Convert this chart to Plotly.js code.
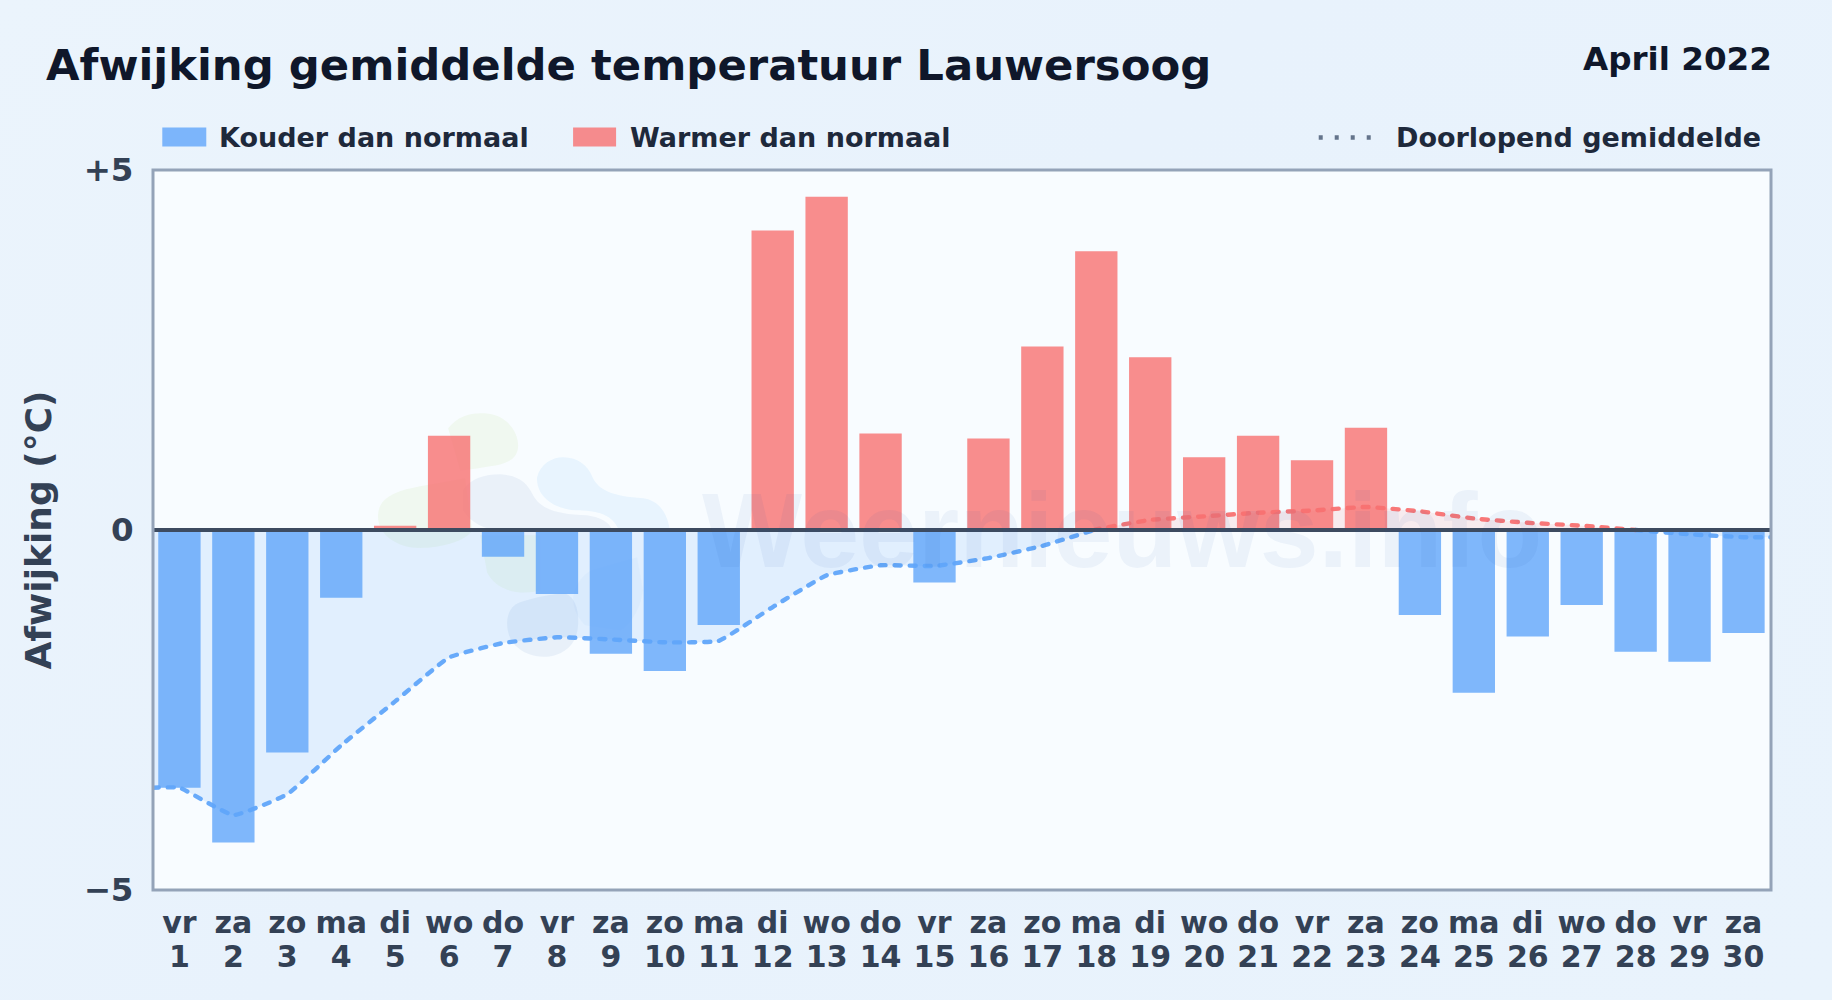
<!DOCTYPE html>
<html>
<head>
<meta charset="utf-8">
<script src="https://cdn.plot.ly/plotly-3.0.1.min.js"></script>
<style>
html,body{margin:0;padding:0;background:linear-gradient(135deg,#ebf4fc 0%,#e8f2fc 45%,#e9f3fc 100%);}
#chart{width:1832px;height:1000px;}
.js-line{stroke-linecap:round;}
</style>
</head>
<body>
<div id="chart"></div>
<script>
// Data
const weekdays = ['vr','za','zo','ma','di','wo','do','vr','za','zo','ma','di','wo','do','vr','za','zo','ma','di','wo','do','vr','za','zo','ma','di','wo','do','vr','za'];
const days = [1,2,3,4,5,6,7,8,9,10,11,12,13,14,15,16,17,18,19,20,21,22,23,24,25,26,27,28,29,30];
const deviation = [-3.58,-4.34,-3.09,-0.94,0.06,1.31,-0.37,-0.89,-1.72,-1.96,-1.32,4.16,4.63,1.34,-0.73,1.27,2.55,3.87,2.40,1.01,1.31,0.97,1.42,-1.18,-2.26,-1.48,-1.04,-1.69,-1.83,-1.43];
const avgDays = [0.5,1,2,3,4,5,6,7,8,9,10,11,12,13,14,15,16,17,18,19,20,21,22,23,24,25,26,27,28,29,30,30.5];
const avgValues = [-3.58,-3.58,-3.96,-3.67,-2.99,-2.38,-1.77,-1.57,-1.49,-1.52,-1.56,-1.54,-1.07,-0.63,-0.49,-0.50,-0.39,-0.22,0.01,0.14,0.19,0.24,0.27,0.32,0.26,0.16,0.10,0.06,0.00,-0.06,-0.10,-0.10];
const yTicks = [-5,0,5];
const yTickText = ['\u22125','0','+5'];

const BLUEBAR='rgba(96,165,250,0.8)', REDBAR='rgba(248,113,113,0.8)';
const FONT='"DejaVu Sans", sans-serif';
const L=152.7, R=1771.5, T=169.6, B=889.7;
const px=x=>(x-L)/(R-L), py=y=>(B-y)/(B-T);

// split the running mean into same-sign runs
const runs=[]; let cur=null;
avgDays.forEach((d,i)=>{
  const v=avgValues[i], pos=v>0;
  if(cur && cur.pos!==pos){
    const pd=avgDays[i-1], pv=avgValues[i-1];
    const xc=pv===v?d:pd+(0-pv)/(v-pv)*(d-pd);
    cur.x.push(xc);cur.y.push(0);
    runs.push(cur);
    cur={pos,x:[xc],y:[0]};
  }
  if(!cur)cur={pos,x:[],y:[]};
  cur.x.push(d);cur.y.push(v);
});
runs.push(cur);

const traces=[
  {type:'bar',name:'Kouder dan normaal',x:days,y:deviation.map(v=>v<0?v:null),width:0.785,marker:{color:BLUEBAR,line:{width:0}},showlegend:false,hoverinfo:'x+y'},
  {type:'bar',name:'Warmer dan normaal',x:days,y:deviation.map(v=>v>=0?v:null),width:0.785,marker:{color:REDBAR,line:{width:0}},showlegend:false,hoverinfo:'x+y'}
];
runs.forEach(r=>traces.push({
  type:'scatter',mode:'lines',name:'Doorlopend gemiddelde',x:r.x,y:r.y,showlegend:false,
  line:{color:r.pos?'rgba(248,113,113,0.95)':'rgba(96,165,250,0.95)',width:4.4,dash:'6px,9px',shape:'spline',smoothing:0.35},
  fill:'tozeroy',fillcolor:r.pos?'rgba(248,113,113,0.12)':'rgba(96,165,250,0.15)'
}));

const blobs=[
 ['rgba(190,225,130,0.12)','M448 428C458 415 472 412 485 413C505 414 518 430 518 445C518 460 505 464 490 466C478 468 466 470 460 470Z'],
 ['rgba(190,225,130,0.12)','M378 513C380 495 400 490 420 486L465 478L472 530C465 543 430 550 410 547C390 543 376 530 378 513Z'],
 ['rgba(100,130,190,0.09)','M463 490C470 478 485 474 500 474C518 475 527 482 533 495C540 508 555 514 587 515C600 517 610 522 612 530L500 530C485 530 470 522 463 510Z'],
 ['rgba(120,190,250,0.13)','M537 477C540 464 552 457 563 457C578 457 588 466 592 476C598 490 612 496 643 498C658 500 668 512 670 532L618 528C612 515 598 510 575 510C552 508 536 495 537 477Z'],
 ['rgba(190,225,130,0.11)','M480 535L540 535L540 590C520 596 495 590 487 572Z'],
 ['rgba(100,140,200,0.10)','M507 623C507 612 512 605 520 602C538 596 552 594 565 593C575 597 579 610 578 625C577 640 570 650 555 655C540 659 525 655 515 645C510 640 507 632 507 623Z'],
 ['rgba(120,170,240,0.06)','M573 597C575 585 582 574 592 570L637 557L643 590C640 610 630 625 620 630L585 625C578 618 573 610 573 597Z']
];
const svg='<svg xmlns="http://www.w3.org/2000/svg" viewBox="'+L+' '+T+' '+(R-L)+' '+(B-T)+'" preserveAspectRatio="none">'+
  blobs.map(b=>'<path fill="'+b[0]+'" d="'+b[1]+'"/>').join('')+'</svg>';

const label=(text,x,y,size,color,anchor)=>({xref:'paper',yref:'paper',x:px(x),y:py(y),text,showarrow:false,xanchor:anchor,yanchor:'middle',
  font:{family:FONT,size,color,weight:700}});

const layout={
  width:1832,height:1000,autosize:false,
  paper_bgcolor:'rgba(0,0,0,0)',plot_bgcolor:'#f8fcff',
  margin:{l:L,r:1832-R,t:T,b:1000-B,pad:0},
  barmode:'overlay',showlegend:false,
  title:{text:'<b>Afwijking gemiddelde temperatuur Lauwersoog</b>',x:46/1832,xanchor:'left',y:1-64.5/1000,yanchor:'middle',font:{family:FONT,size:43.35,color:'#0f172a'}},
  font:{family:FONT},
  xaxis:{range:[0.51,30.51],tickmode:'array',tickvals:days,ticktext:days.map((d,i)=>weekdays[i]+'<br>'+d),
    tickfont:{family:FONT,size:30,color:'#334155',weight:700},tickangle:0,ticks:'outside',ticklen:6,tickcolor:'rgba(0,0,0,0)',
    showgrid:false,zeroline:false,showline:false,fixedrange:true},
  yaxis:{range:[-5,5],tickmode:'array',tickvals:yTicks,ticktext:yTickText,
    tickfont:{family:FONT,size:32.5,color:'#334155',weight:700},ticks:'outside',ticklen:12,tickcolor:'rgba(0,0,0,0)',
    showgrid:false,zeroline:false,showline:false,fixedrange:true,
    title:{text:'<b>Afwijking (°C)</b>',standoff:21,font:{family:FONT,size:36,color:'#334155'}}},
  shapes:[
    {type:'line',xref:'paper',yref:'y',x0:0,x1:1,y0:0,y1:0,line:{color:'#3d4b60',width:4},layer:'above'},
    {type:'rect',xref:'paper',yref:'paper',x0:0,x1:1,y0:0,y1:1,line:{color:'#94a3b8',width:3},layer:'above'},
    {type:'rect',xref:'paper',yref:'paper',x0:px(162),x1:px(206),y0:py(127),y1:py(146),fillcolor:BLUEBAR,line:{width:0}},
    {type:'rect',xref:'paper',yref:'paper',x0:px(573),x1:px(616),y0:py(127),y1:py(146),fillcolor:REDBAR,line:{width:0}},
    {type:'line',xref:'paper',yref:'paper',x0:px(1319),x1:px(1377),y0:py(137),y1:py(137),line:{color:'#64748b',width:4.5,dash:'4px,12px'}}
  ],
  annotations:[
    label('April 2022',1774.5,59,32.6,'#0f172a','right'),
    label('Kouder dan normaal',216.7,137,27,'#1e293b','left'),
    label('Warmer dan normaal',628,137,27,'#1e293b','left'),
    label('Doorlopend gemiddelde',1763,137,27,'#1e293b','right'),
    {xref:'paper',yref:'paper',x:px(700),y:py(565),text:'Weernieuws.info',showarrow:false,xanchor:'left',yanchor:'bottom',yshift:-26,
      font:{family:'"Liberation Sans", sans-serif',size:106,color:'rgba(30,90,170,0.06)',weight:700}}
  ],
  images:[{source:'data:image/svg+xml;charset=utf-8,'+encodeURIComponent(svg),xref:'paper',yref:'paper',x:0,y:1,sizex:1,sizey:1,sizing:'stretch',xanchor:'left',yanchor:'top',layer:'below'}]
};
Plotly.newPlot('chart',traces,layout,{displayModeBar:false,responsive:false}).then(()=>{
  // tighten the two-line day labels to the reference line spacing
  document.querySelectorAll('.xtick text').forEach(t=>{
    const lines=t.querySelectorAll('tspan.line');
    if(lines.length===2){
      lines[1].setAttribute('dy','33.5');
    }
  });
});
</script>
</body>
</html>
